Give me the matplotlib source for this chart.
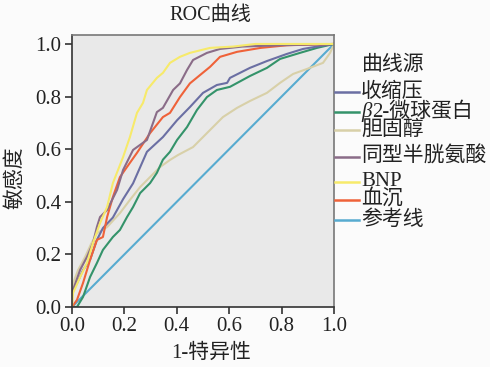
import matplotlib
matplotlib.use("Agg")
import matplotlib.pyplot as plt
from matplotlib.lines import Line2D

plt.rcParams['font.family'] = ['Liberation Serif', 'Noto Sans CJK SC']

# ROC curves (x = 1-specificity, y = sensitivity)
sbp_x = [0, 0, 0.004, 0.019, 0.042, 0.069, 0.095, 0.118, 0.156, 0.195, 0.233, 0.286, 0.347, 0.401, 0.45, 0.5, 0.553, 0.592, 0.603, 0.641, 0.679, 0.744, 0.82, 0.882, 0.947, 1.0]
sbp_y = [0, 0.04, 0.065, 0.09, 0.14, 0.18, 0.255, 0.30, 0.34, 0.41, 0.47, 0.59, 0.646, 0.71, 0.76, 0.814, 0.844, 0.852, 0.871, 0.89, 0.909, 0.935, 0.962, 0.981, 0.992, 1.0]

b2m_x = [0, 0.019, 0.042, 0.069, 0.095, 0.118, 0.156, 0.183, 0.21, 0.233, 0.26, 0.298, 0.324, 0.347, 0.374, 0.401, 0.439, 0.477, 0.515, 0.553, 0.603, 0.679, 0.744, 0.794, 0.87, 0.935, 1.0]
b2m_y = [0, 0, 0.038, 0.114, 0.167, 0.217, 0.266, 0.293, 0.342, 0.38, 0.433, 0.471, 0.51, 0.56, 0.59, 0.635, 0.684, 0.749, 0.798, 0.825, 0.837, 0.878, 0.909, 0.943, 0.966, 0.985, 1.0]

chol_x = [0, 0, 0.004, 0.023, 0.05, 0.073, 0.095, 0.134, 0.183, 0.221, 0.26, 0.298, 0.336, 0.374, 0.405, 0.462, 0.527, 0.576, 0.63, 0.679, 0.744, 0.794, 0.844, 0.897, 0.958, 0.985, 1.0]
chol_y = [0, 0.05, 0.09, 0.14, 0.19, 0.24, 0.28, 0.304, 0.357, 0.407, 0.456, 0.494, 0.532, 0.559, 0.578, 0.608, 0.673, 0.722, 0.757, 0.783, 0.814, 0.852, 0.886, 0.905, 0.928, 0.966, 1.0]

hcy_x = [0, 0, 0.004, 0.031, 0.057, 0.08, 0.095, 0.107, 0.134, 0.172, 0.195, 0.233, 0.286, 0.324, 0.347, 0.386, 0.412, 0.439, 0.462, 0.515, 0.565, 0.65, 0.8, 1.0]
hcy_y = [0, 0.05, 0.065, 0.141, 0.19, 0.243, 0.304, 0.342, 0.369, 0.445, 0.521, 0.597, 0.635, 0.741, 0.757, 0.825, 0.85, 0.901, 0.939, 0.966, 0.981, 0.99, 0.995, 1.0]

bnp_x = [0, 0.004, 0.031, 0.057, 0.08, 0.107, 0.134, 0.156, 0.195, 0.221, 0.248, 0.271, 0.286, 0.324, 0.347, 0.374, 0.412, 0.45, 0.527, 0.615, 0.7, 1.0]
bnp_y = [0, 0.053, 0.114, 0.167, 0.243, 0.319, 0.38, 0.471, 0.570, 0.646, 0.738, 0.776, 0.825, 0.871, 0.89, 0.928, 0.951, 0.966, 0.985, 0.99, 1.0, 1.0]

esr_x = [0, 0.019, 0.042, 0.069, 0.095, 0.118, 0.134, 0.156, 0.183, 0.221, 0.248, 0.298, 0.347, 0.374, 0.412, 0.45, 0.489, 0.527, 0.565, 0.63, 0.72, 0.82, 1.0]
esr_y = [0, 0.027, 0.091, 0.179, 0.255, 0.266, 0.342, 0.418, 0.494, 0.548, 0.586, 0.661, 0.722, 0.738, 0.798, 0.85, 0.882, 0.913, 0.951, 0.97, 0.985, 0.995, 1.0]

ref_x = [0, 1]
ref_y = [0, 1]

labels = ['收缩压', 'β2-微球蛋白', '胆固醇', '同型半胱氨酸', 'BNP', '血沉', '参考线']
colors = ['#6b6fa3', '#34936a', '#d8d0a8', '#8a6c88', '#f7ea6a', '#ef6239', '#57abd0']
series = [(sbp_x, sbp_y), (b2m_x, b2m_y), (chol_x, chol_y), (hcy_x, hcy_y),
          (bnp_x, bnp_y), (esr_x, esr_y), (ref_x, ref_y)]
legend_y = [92, 112, 130, 157, 182, 200, 220]   # pixel rows of legend entries

W, H = 490, 367
fig = plt.figure(figsize=(W / 100, H / 100), dpi=100)
fig.patch.set_facecolor('#fbfbfb')

ax = fig.add_axes([72 / W, 1 - 307 / H, (334 - 72) / W, (307 - 35) / H])
ax.set_facecolor('#e9e9e9')

# reference line first, then the curves
order = [6, 2, 1, 0, 5, 3, 4]
for i in order:
    x, y = series[i]
    ax.plot(x, y, color=colors[i], lw=1.5, zorder=2)

ax.set_xlim(0, 1)
ax.set_ylim(0, 1.034)
ticks = [0, 0.2, 0.4, 0.6, 0.8, 1.0]
ticklabels = ['0.0', '0.2', '0.4', '0.6', '0.8', '1.0']
ax.set_xticks(ticks)
ax.set_yticks(ticks)
ax.set_xticklabels(ticklabels)
ax.set_yticklabels(ticklabels)
ax.tick_params(direction='out', length=5, width=1.2, color='#333333',
               labelsize=15, labelcolor='#222222', pad=2.5)
for s in ['left', 'bottom']:
    ax.spines[s].set_color('#333333')
    ax.spines[s].set_linewidth(1.2)
for s in ['top', 'right']:
    ax.spines[s].set_color('#777777')
    ax.spines[s].set_linewidth(1.2)

fig.text(210 / W, 1 - 15 / H, 'ROC曲线', ha='center', va='center', fontsize=14.5, color='#222222')
fig.text(211 / W, 1 - 353 / H, '1-特异性', ha='center', va='center', fontsize=15, color='#222222')
fig.text(15 / W, 1 - 178 / H, '敏感度', ha='center', va='center', rotation=90, fontsize=15, color='#222222')

# legend
fig.text(362 / W, 1 - 65 / H, '曲线源', ha='left', va='center', fontsize=15, color='#222222')
renderer = fig.canvas.get_renderer()
for lab, c, py in zip(labels, colors, legend_y):
    fig.add_artist(Line2D([335 / W, 359 / W], [1 - py / H, 1 - py / H], color=c, lw=1.8,
                          transform=fig.transFigure))
    if lab.startswith('β'):
        t = fig.text(361 / W, 1 - py / H, lab[0], ha='left', va='center', fontsize=15,
                     style='italic', color='#222222')
        w = t.get_window_extent(renderer).width
        fig.text((361 + w + 1) / W, 1 - py / H, lab[1:], ha='left', va='center',
                 fontsize=15, color='#222222')
    else:
        fig.text(361 / W, 1 - py / H, lab, ha='left', va='center', fontsize=15, color='#222222')

fig.savefig('out.png', dpi=100, facecolor=fig.get_facecolor())
